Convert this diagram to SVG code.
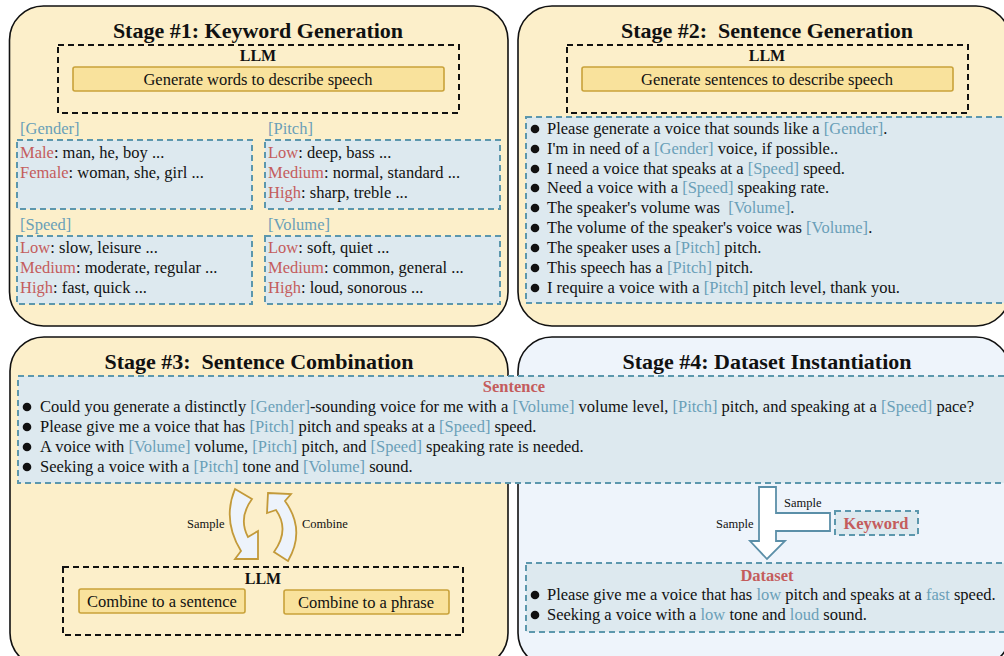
<svg xmlns="http://www.w3.org/2000/svg" width="1004" height="656" viewBox="0 0 1004 656">
<style>
text{font-family:"Liberation Serif","Times New Roman",serif;fill:#111}
.stage{stroke:#111;stroke-width:1.6}
.y{fill:#fcefca}
.b4{fill:#eef4fb}
.title{font-size:22px;font-weight:bold;text-anchor:middle}
.llm{fill:none;stroke:#111;stroke-width:2;stroke-dasharray:6 4}
.llmt{font-size:16px;font-weight:bold;text-anchor:middle}
.btn{fill:#f9e29c;stroke:#c9a23a;stroke-width:1.6}
.bt{font-size:16.5px;text-anchor:middle}
.blue{fill:#dde9ef;stroke:#5c97ad;stroke-width:2;stroke-dasharray:6 4}
.t{font-size:16.5px}
.k{fill:#6a9fb8}
.r{fill:#c45c5c}
.h{font-size:16.5px;font-weight:bold;fill:#c45c5c;text-anchor:middle}
.s{font-size:12.5px}
.carrow{fill:#edf3fb;stroke:#c39a3a;stroke-width:1.8}
.tarrow{fill:#ffffff;stroke:#5b8fa8;stroke-width:1.8}
</style>

<g id="stage1">
<rect class="stage y" x="9.5" y="6" width="498.5" height="320" rx="34"/>
<text class="title" x="258" y="38">Stage #1: Keyword Generation</text>
<rect class="llm" x="58" y="45" width="401" height="68"/>
<text class="llmt" x="258" y="61">LLM</text>
<rect class="btn" x="73" y="67" width="371" height="24" rx="2"/>
<text class="bt" x="258" y="85">Generate words to describe speech</text>
<text class="t k" x="20" y="134">[Gender]</text>
<rect class="blue" x="17" y="140" width="235" height="69"/>
<text class="t" x="20" y="158"><tspan class="r">Male</tspan>: man, he, boy ...</text>
<text class="t" x="20" y="178"><tspan class="r">Female</tspan>: woman, she, girl ...</text>
<text class="t k" x="268" y="134">[Pitch]</text>
<rect class="blue" x="265" y="140" width="235" height="69"/>
<text class="t" x="268" y="158"><tspan class="r">Low</tspan>: deep, bass ...</text>
<text class="t" x="268" y="178"><tspan class="r">Medium</tspan>: normal, standard ...</text>
<text class="t" x="268" y="198"><tspan class="r">High</tspan>: sharp, treble ...</text>
<text class="t k" x="20" y="230">[Speed]</text>
<rect class="blue" x="17" y="236" width="235" height="68"/>
<text class="t" x="20" y="253"><tspan class="r">Low</tspan>: slow, leisure ...</text>
<text class="t" x="20" y="273"><tspan class="r">Medium</tspan>: moderate, regular ...</text>
<text class="t" x="20" y="293"><tspan class="r">High</tspan>: fast, quick ...</text>
<text class="t k" x="268" y="230">[Volume]</text>
<rect class="blue" x="265" y="236" width="235" height="68"/>
<text class="t" x="268" y="253"><tspan class="r">Low</tspan>: soft, quiet ...</text>
<text class="t" x="268" y="273"><tspan class="r">Medium</tspan>: common, general ...</text>
<text class="t" x="268" y="293"><tspan class="r">High</tspan>: loud, sonorous ...</text>
</g>

<g id="stage2">
<rect class="stage y" x="518" y="6" width="492" height="320" rx="34"/>
<text class="title" x="767" y="38" xml:space="preserve">Stage #2:  Sentence Generation</text>
<rect class="llm" x="567" y="45" width="401" height="68"/>
<text class="llmt" x="767" y="61">LLM</text>
<rect class="btn" x="582" y="67" width="371" height="24" rx="2"/>
<text class="bt" x="767" y="85">Generate sentences to describe speech</text>
<rect class="blue" x="526" y="117" width="490" height="186"/>
<g fill="#111">
<circle cx="535" cy="129" r="4.3"/><circle cx="535" cy="149" r="4.3"/><circle cx="535" cy="169" r="4.3"/>
<circle cx="535" cy="188" r="4.3"/><circle cx="535" cy="208" r="4.3"/><circle cx="535" cy="228" r="4.3"/>
<circle cx="535" cy="248" r="4.3"/><circle cx="535" cy="268" r="4.3"/><circle cx="535" cy="288" r="4.3"/>
</g>
<text class="t" x="547" y="134">Please generate a voice that sounds like a <tspan class="k">[Gender]</tspan>.</text>
<text class="t" x="547" y="154">I'm in need of a <tspan class="k">[Gender]</tspan> voice, if possible..</text>
<text class="t" x="547" y="174">I need a voice that speaks at a <tspan class="k">[Speed]</tspan> speed.</text>
<text class="t" x="547" y="193">Need a voice with a <tspan class="k">[Speed]</tspan> speaking rate.</text>
<text class="t" x="547" y="213" xml:space="preserve">The speaker's volume was  <tspan class="k">[Volume]</tspan>.</text>
<text class="t" x="547" y="233">The volume of the speaker's voice was <tspan class="k">[Volume]</tspan>.</text>
<text class="t" x="547" y="253">The speaker uses a <tspan class="k">[Pitch]</tspan> pitch.</text>
<text class="t" x="547" y="273">This speech has a <tspan class="k">[Pitch]</tspan> pitch.</text>
<text class="t" x="547" y="293">I require a voice with a <tspan class="k">[Pitch]</tspan> pitch level, thank you.</text>
</g>

<g id="stage3">
<rect class="stage y" x="10" y="337" width="498" height="330" rx="34"/>
<text class="title" x="259" y="369" xml:space="preserve">Stage #3:  Sentence Combination</text>
<rect class="llm" x="63" y="567" width="400" height="68"/>
<text class="llmt" x="263" y="584">LLM</text>
<rect class="btn" x="79" y="589" width="166" height="24" rx="2"/>
<text class="bt" x="162" y="607">Combine to a sentence</text>
<rect class="btn" x="284" y="590" width="165" height="24" rx="2"/>
<text class="bt" x="366" y="608">Combine to a phrase</text>
<text class="s" x="187" y="528">Sample</text>
<text class="s" x="302" y="528">Combine</text>
</g>

<g id="stage4">
<rect class="stage b4" x="518" y="337" width="492" height="330" rx="34"/>
<text class="title" x="767" y="369">Stage #4: Dataset Instantiation</text>
<text class="s" x="784" y="507">Sample</text>
<text class="s" x="716" y="528">Sample</text>
<rect class="blue" x="835" y="511" width="83" height="24"/>
<text class="h" x="876" y="529">Keyword</text>
<rect class="blue" x="526" y="563" width="490" height="69"/>
<text class="h" x="767" y="581">Dataset</text>
<g fill="#111"><circle cx="535" cy="595" r="4.3"/><circle cx="535" cy="615" r="4.3"/></g>
<text class="t" x="547" y="600">Please give me a voice that has <tspan class="k">low</tspan> pitch and speaks at a <tspan class="k">fast</tspan> speed.</text>
<text class="t" x="547" y="620">Seeking a voice with a <tspan class="k">low</tspan> tone and <tspan class="k">loud</tspan> sound.</text>
</g>

<g id="sentence">
<rect class="blue" x="18" y="376" width="998" height="107"/>
<text class="h" x="514" y="392">Sentence</text>
<g fill="#111">
<circle cx="27" cy="407" r="4.3"/><circle cx="27" cy="427" r="4.3"/><circle cx="27" cy="447" r="4.3"/><circle cx="27" cy="467" r="4.3"/>
</g>
<text class="t" x="40" y="412">Could you generate a distinctly <tspan class="k">[Gender]</tspan>-sounding voice for me with a <tspan class="k">[Volume]</tspan> volume level, <tspan class="k">[Pitch]</tspan> pitch, and speaking at a <tspan class="k">[Speed]</tspan> pace?</text>
<text class="t" x="40" y="432">Please give me a voice that has <tspan class="k">[Pitch]</tspan> pitch and speaks at a <tspan class="k">[Speed]</tspan> speed.</text>
<text class="t" x="40" y="452">A voice with <tspan class="k">[Volume]</tspan> volume, <tspan class="k">[Pitch]</tspan> pitch, and <tspan class="k">[Speed]</tspan> speaking rate is needed.</text>
<text class="t" x="40" y="472">Seeking a voice with a <tspan class="k">[Pitch]</tspan> tone and <tspan class="k">[Volume]</tspan> sound.</text>
</g>

<g id="connectors">
<path class="carrow" d="M235,489 L252,499 Q238,518 248,537 L258,531 L258,559 L235,559 L241,551 Q222,520 235,489 Z"/>
<path class="carrow" d="M268,493 L291,494 L285,501 Q306,530 288,561 L274,552 Q290,530 276,510 L267,513 Z"/>
<path class="tarrow" d="M759,487 L776,487 L776,513 L830,513 L830,531 L776,531 L776,541 L785,541 L767,559 L750,541 L759,541 Z"/>
</g>
</svg>
